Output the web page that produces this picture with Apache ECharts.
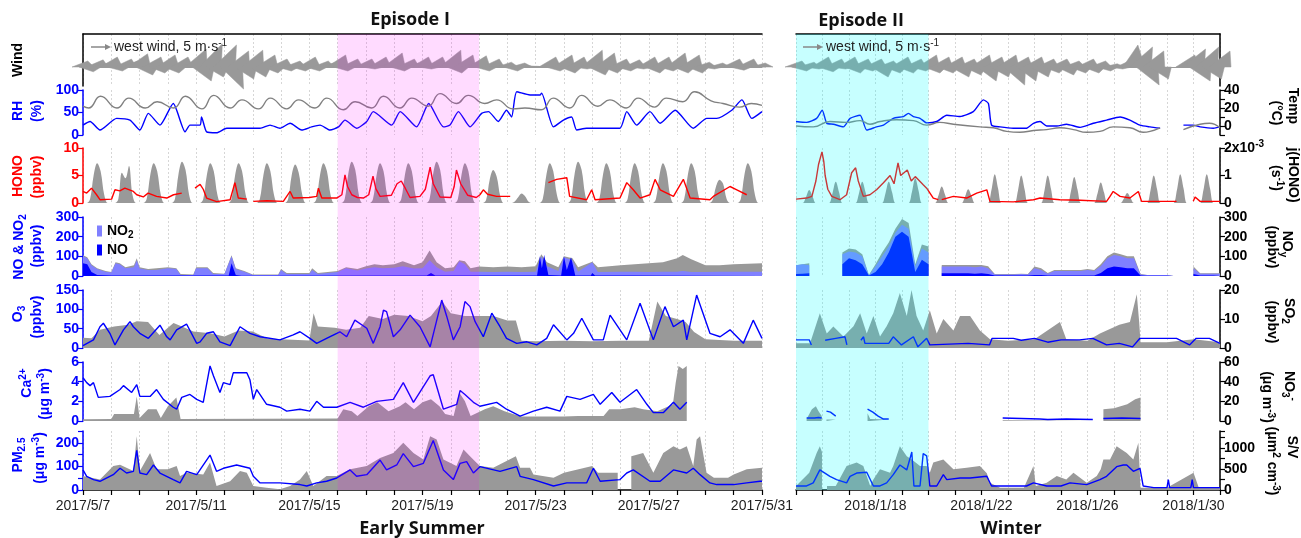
<!DOCTYPE html>
<html>
<head>
<meta charset="utf-8">
<script src="https://cdn.jsdelivr.net/npm/echarts@6/dist/echarts.min.js"></script>
<style>
html, body { margin: 0; padding: 0; background: #fff; }
#chart { width: 1301px; height: 538px; }
</style>
</head>
<body>
<div id="chart"></div>
<script>
// x = days since the first date of each campaign
const summerLabelDays = [0, 4, 8, 12, 16, 20, 24];
const summerDateLabels = ['2017/5/7', '2017/5/11', '2017/5/15', '2017/5/19', '2017/5/23', '2017/5/27', '2017/5/31'];
const winterLabelDays = [3, 7, 11, 15];
const winterDateLabels = ['2018/1/18', '2018/1/22', '2018/1/26', '2018/1/30'];
const episodeSummer = [9, 14];   // 5/16 - 5/21
const episodeWinter = [0, 5];    // 1/15 - 1/20

// y tick labels that are printed
const tempTicks = [0, 20, 40];
const pmTicks = [0, 100, 200];
const svTicks = [0, 500, 1000];

// ---------- wind (m/s, 6-hourly east / north components) ----------
const uSummer = [1.2,0.8,1.5,1.0, 1.5,1.0,1.5,1.2, 2.0,1.5,1.8,1.0, 1.8,1.0,1.5,1.0, 2.5,2.0,3.0,1.5, 3.0,3.0,2.5,2.0,
  2.5,1.5,2.0,1.0, 1.5,0.8,1.2,0.8, 1.5,0.8,1.2,0.8, 2.0,0.8,1.5,0.5, 1.5,0.5,1.5,0.8, 2.0,0.8,1.5,0.8,
  1.5,0.5,1.5,0.8, 2.5,1.0,2.0,0.8, 1.8,0.8,1.5,0.5, 1.0,0.8,0.8,0.3, 0.2,0.1,1.5,0.8, 2.0,1.0,1.5,0.5,
  2.5,1.5,2.0,1.0, 1.5,0.8,1.2,0.5, 1.5,1.0,1.5,0.8, 2.0,1.0,2.0,1.0, 1.0,0.5,0.8,0.5, 1.5,0.8,1.5,0.5, 0.8];
const vSummer = [1.5,-1.2,1.8,1.0, 2.5,-1.0,2.0,1.5, 3.3,-2.0,2.5,-1.5, 3.0,-1.5,2.5,1.0, 4.5,-3.5,5.8,-2.5, 5.5,-5.5,4.0,-3.0,
  4.2,-2.5,3.0,-1.5, 2.0,-1.0,1.5,-1.0, 2.5,-1.0,1.5,1.0, 3.0,-1.0,2.0,0.5, 2.0,-0.5,2.5,1.0, 3.5,-1.0,2.0,1.0,
  2.5,-0.5,2.5,1.0, 4.2,-1.5,3.0,1.0, 2.8,-1.0,2.0,0.5, 1.2,-1.0,1.0,0.3, 0.2,0.1,2.5,-1.0, 3.0,-1.5,2.5,-0.5,
  4.2,-2.0,3.5,-1.5, 2.0,-1.0,1.8,-0.5, 2.5,-1.5,2.5,-1.0, 3.5,-1.5,3.0,-1.5, 1.2,-0.5,1.0,0.5, 2.0,-0.8,2.0,0.5, 1.0];
const uWinter = [1.5,1.0,1.2,0.8, 1.5,1.0,1.5,0.8, 1.5,1.2,1.5,1.0, 1.5,1.5,1.2,1.2, 1.5,1.2,1.5,1.0, 2.0,1.2,1.8,1.2,
  1.8,1.8,1.5,1.5, 2.0,2.0,1.8,1.8, 2.0,2.5,1.8,2.0, 1.8,1.8,1.5,1.2, 1.5,1.5,1.2,1.2, 1.5,1.2,1.2,0.8,
  0.8,0.5,1.5,1.0, 3.0,3.0,2.5,2.0, null,null,null,2.0, 3.0,2.5,3.0,2.0, 2.5];
const vWinter = [1.5,-1.0,1.2,-0.5, 2.5,-1.2,2.0,-0.5, 2.5,-1.5,2.0,-1.0, 2.0,-2.5,1.5,-1.5, 2.5,-1.5,2.0,-1.0, 3.0,-1.5,2.5,-1.5,
  2.5,-2.5,2.0,-2.0, 3.0,-3.5,2.5,-2.5, 3.0,-4.5,2.5,-3.5, 2.5,-2.5,2.0,-1.5, 2.0,-2.0,1.5,-1.5, 2.0,-1.5,1.5,-1.0,
  0.8,-0.5,2.0,5.5, 5.0,-4.5,4.0,-3.0, null,null,null,3.0, 4.5,-3.5,5.0,-3.0, 4.0];

// ---------- RH (%) and temperature (degC) ----------
const rhSummer = [[0,22],[0.25,30],[0.6,11],[1.19,37],[1.66,33],[2.01,11],[2.31,48],[2.72,22],[3.19,70],[3.61,7],[3.78,22],[4.14,22],[4.19,40],[4.37,7],[4.72,5],[5.08,15],[5.79,15],[6.26,15],[6.61,22],[6.96,15],[7.32,26],[7.73,11],[8.08,18],[8.38,22],[8.73,11],[9.03,18],[9.26,33],[9.67,15],[10.03,30],[10.26,52],[10.91,22],[11.21,52],[11.79,18],[12.22,70],[12.74,18],[12.97,22],[13.27,52],[13.68,18],[14.09,48],[14.33,52],[14.68,30],[14.97,55],[15.15,40],[15.33,96],[15.8,89],[16.16,89],[16.21,93],[16.63,18],[16.98,33],[17.27,40],[17.45,11],[17.8,15],[18.39,15],[18.98,15],[19.22,52],[19.57,22],[20.04,52],[20.4,26],[20.93,55],[21.57,15],[22.05,37],[22.4,37],[22.93,55],[23.29,78],[23.64,37],[24,52]];
const tempSummer = [[0,22],[0.2,20],[0.62,33],[1.2,20],[1.62,31],[2.2,20],[2.62,27],[3.2,20],[3.62,33],[4.2,19],[4.62,34],[5.2,20],[5.62,29],[6.2,19],[6.62,31],[7.2,19],[7.62,29],[8.2,20],[8.62,31],[9.2,18],[9.62,27],[10.2,20],[10.62,33],[11.2,20],[11.62,31],[12.2,22],[12.62,36],[13.2,25],[13.62,34],[14.2,25],[14.62,29],[15.2,19],[15.62,20],[16.2,18],[16.62,31],[17.2,20],[17.62,34],[18.2,22],[18.62,29],[19.2,20],[19.62,31],[20.2,21],[20.62,31],[21.2,27],[21.62,38],[22.2,28],[22.62,25],[23.2,21],[23.62,25],[24,23]];
const rhWinter = [[0,30],[0.4,28],[0.78,37],[0.99,55],[1.16,26],[1.41,24],[1.79,18],[2.04,37],[2.42,44],[2.67,11],[3.04,18],[3.3,22],[3.67,37],[4.05,41],[4.24,48],[4.43,41],[4.68,37],[4.93,27],[5.31,30],[5.69,44],[6.19,41],[6.69,52],[7.07,78],[7.26,70],[7.38,22],[7.7,18],[8.2,15],[8.7,15],[8.96,26],[9.21,30],[9.46,20],[9.84,20],[10.21,24],[10.72,17],[11.22,26],[11.72,33],[12.23,40],[12.6,33],[12.98,22],[13.36,18],[13.74,15],[13.8,null],[14.62,22],[14.99,22],[15.25,18],[15.75,15],[16,18]];
const tempWinter = [[0,0],[0.65,-1],[1.28,5],[1.91,4],[2.42,6],[2.79,2],[3.17,5],[3.8,7],[4.43,6],[4.93,1],[5.43,4],[5.94,2],[6.94,-1],[7.45,-2],[7.95,-6],[8.45,-7],[8.96,-5],[9.46,-4],[9.96,-2],[10.47,-4],[10.97,-7],[11.47,-6],[11.97,-1],[12.6,-2],[13.1,-7],[13.36,-6],[13.74,-2],[13.8,null],[14.62,-4],[15.25,2],[15.6,3],[16,-2]];

// ---------- HONO (ppbv) and j(HONO) (1e-3 s-1, 3-hourly) ----------
const honoSummer = [[0,2.1],[0.13,1.8],[0.3,2.7],[0.48,1.5],[0.6,0.6],[1.01,0.7],[1.13,2.4],[1.3,2.2],[1.48,2.7],[1.78,2.1],[1.9,1.5],[2.13,1.1],[2.3,1.8],[2.6,1.2],[2.96,0.9],[3.2,1.5],[3.49,1.8],[3.55,null],[3.96,2.7],[4.14,3.4],[4.25,2.5],[4.37,0.9],[4.72,0.25],[5.2,0.6],[5.37,3.7],[5.49,0.9],[5.79,0.7],[5.85,null],[6.02,0.3],[6.5,0.4],[7.08,0.3],[7.32,2.1],[7.43,0.9],[8.0,1.0],[8.26,1.2],[8.32,2.7],[8.44,0.9],[8.97,0.9],[9.15,1.5],[9.26,5.1],[9.35,3.0],[9.5,1.5],[9.7,1.0],[9.91,0.9],[10.1,1.5],[10.25,4.9],[10.35,2.6],[10.5,1.2],[10.9,1.4],[11.1,3.5],[11.25,4.0],[11.4,2.6],[11.56,1.0],[11.91,1.2],[12.1,2.5],[12.27,6.5],[12.38,3.5],[12.62,1.1],[13.0,1.0],[13.12,3.0],[13.2,6.0],[13.35,3.5],[13.6,1.4],[13.9,1.0],[14.03,1.5],[14.15,2.4],[14.3,1.6],[14.62,1.2],[15.1,1.2],[15.15,null],[16.45,3.7],[16.74,4.3],[17.1,4.6],[17.2,1.2],[17.8,0.6],[17.98,2.4],[18.1,0.6],[18.98,0.9],[19.22,3.7],[19.45,2.4],[19.69,0.9],[20.04,1.5],[20.22,4.3],[20.4,2.4],[20.87,1.2],[21.22,4.3],[21.46,0.9],[22.16,0.6],[22.28,1.2],[22.87,3.0],[23.11,2.4],[23.46,1.5]];
const honoWinter = [[0,0.7],[0.4,0.9],[0.6,1.2],[0.75,4],[0.85,7],[0.98,9.3],[1.05,7.5],[1.1,5],[1.2,2.5],[1.35,1.2],[1.66,0.6],[1.91,1.5],[2.1,5.5],[2.25,6.4],[2.35,4],[2.54,1.2],[2.79,1.5],[3.04,2.4],[3.3,3.7],[3.55,5],[3.7,3.5],[3.85,7.3],[3.95,5],[4.2,6],[4.35,4],[4.5,4.8],[4.8,3.3],[4.93,2.7],[5.18,0.9],[5.37,0.6],[5.42,null],[5.5,0.6],[5.94,1.2],[6.44,0.9],[6.82,1.8],[7.2,2.4],[7.32,0.3],[8.2,0.2],[8.96,0.6],[9.21,0.9],[9.96,0.6],[10.72,0.5],[11.72,0.3],[11.85,1.2],[11.97,2.1],[12.23,1.2],[12.6,0.9],[12.92,2.1],[13.04,0.3],[14.36,0.3],[14.45,null],[14.99,0.3],[15.06,1.1],[15.25,0.3],[16,0.3]];
const jSummer = [
  0,0,.15,1.0,1.45,1.15,.3,0,  0,0,.15,1.1,.9,1.35,.3,0,    0,0,.15,1.0,1.45,1.15,.3,0,  0,0,.15,1.05,1.5,1.2,.3,0,
  0,0,.15,1.0,1.45,1.15,.3,0,  0,0,.15,1.0,1.45,1.15,.3,0,  0,0,.15,1.0,1.45,1.15,.3,0,  0,0,.15,1.0,1.4,1.1,.3,0,
  0,0,.15,1.0,1.45,1.15,.3,0,  0,0,.15,1.05,1.5,1.2,.3,0,   0,0,.15,1.0,1.45,1.15,.3,0,  0,0,.15,1.0,1.45,1.15,.3,0,
  0,0,.15,1.05,1.5,1.2,.3,0,   0,0,.15,1.0,1.45,1.15,.3,0,  0,0,.12,.85,1.2,.95,.25,0,   0,0,.05,.2,.35,.25,.05,0,
  0,0,.15,1.0,1.45,1.15,.3,0,  0,0,.15,1.05,1.5,1.2,.3,0,   0,0,.15,1.0,1.45,1.15,.3,0,  0,0,.15,1.0,1.45,1.15,.3,0,
  0,0,.15,1.0,1.45,1.15,.3,0,  0,0,.15,1.0,1.45,1.15,.3,0,  0,0,.1,.6,.85,.7,.15,0,      0,0,.15,1.0,1.45,1.15,.3,0,
  0];
const jWinter = [
  0,0,0,.21,.47,.24,0,0, 0,0,0,.35,.77,.39,0,0,  0,0,0,.35,.77,.39,0,0,  0,0,0,.35,.77,.39,0,0,
  0,0,0,.4,.9,.45,0,0,   0,0,0,.27,.6,.3,0,0,    0,0,0,.22,.5,.25,0,0,   0,0,0,.47,1.05,.53,0,0,
  0,0,0,.45,1.0,.5,0,0,  0,0,0,.45,1.0,.5,0,0,   0,0,0,.43,.95,.48,0,0,  0,0,0,.34,.75,.38,0,0,
  0,0,0,.16,.36,.18,0,0, 0,0,0,.45,1.0,.5,0,0,   0,0,0,.47,1.05,.53,0,0, 0,0,0,.47,1.05,.53,0,0,
  0];

// ---------- NO, NO2, NOy (ppbv) ----------
const noySummer = [[0,105],[0.15,95],[0.3,60],[0.5,40],[0.8,25],[1.0,20],[1.15,70],[1.3,65],[1.5,45],[1.8,55],[1.9,90],[2.0,45],[2.3,35],[2.6,40],[3.0,45],[3.3,40],[3.45,10],[3.9,8],[4.0,45],[4.4,45],[4.6,15],[5.0,12],[5.25,105],[5.4,40],[5.7,25],[6.0,8],[6.9,8],[7.0,35],[7.2,15],[8.0,15],[8.1,40],[8.3,15],[9.0,25],[9.3,45],[9.7,35],[10.0,50],[10.3,60],[10.6,55],[11.0,60],[11.3,75],[11.7,55],[12.0,70],[12.25,130],[12.5,70],[12.8,40],[13.1,45],[13.3,80],[13.5,75],[13.7,40],[14.0,48],[14.5,45],[15.0,48],[15.5,45],[16.0,50],[16.2,110],[16.4,70],[16.8,45],[17.0,100],[17.3,90],[17.5,45],[18.0,73],[18.2,45],[19.0,55],[19.5,60],[20.0,65],[20.5,70],[21.0,90],[21.2,107],[21.5,85],[22.0,55],[22.5,55],[23.0,60],[23.5,62],[24,65]];
const no2Summer = [[0,100],[0.15,90],[0.3,55],[0.5,35],[0.8,22],[1.0,18],[1.15,65],[1.3,60],[1.5,40],[1.8,45],[1.9,80],[2.0,38],[2.3,30],[2.6,30],[3.0,40],[3.3,35],[3.45,5],[3.9,5],[4.0,40],[4.4,40],[4.6,10],[5.0,10],[5.25,100],[5.4,35],[5.7,22],[6.0,5],[6.9,5],[7.0,30],[7.2,10],[8.0,10],[8.1,30],[8.3,10],[9.0,20],[9.3,40],[9.7,28],[10.0,38],[10.3,45],[10.6,40],[11.0,42],[11.3,50],[11.7,38],[12.0,40],[12.25,80],[12.5,45],[12.8,22],[13.1,25],[13.3,75],[13.5,60],[13.7,22],[14.0,22],[14.5,20],[15.0,22],[15.5,20],[16.0,22],[16.2,100],[16.4,50],[16.8,25],[17.0,95],[17.3,80],[17.5,22],[18.0,70],[18.2,20],[19.0,22],[19.5,22],[20.0,20],[20.5,22],[21.0,22],[21.2,25],[21.5,20],[22.0,20],[22.5,22],[23.0,22],[23.5,22],[24,22]];
const noSummer = [[0,65],[0.15,60],[0.3,20],[0.5,5],[1.0,2],[1.85,3],[1.9,10],[2.0,2],[5.15,2],[5.25,65],[5.4,5],[5.6,1],[12.15,2],[12.3,15],[12.45,2],[16.05,2],[16.15,100],[16.22,40],[16.3,107],[16.45,5],[16.9,2],[17.0,100],[17.1,30],[17.25,95],[17.4,3],[17.95,2],[18.0,15],[18.1,2],[19.25,2],[19.3,10],[19.4,2],[24,2]];
// winter NOx values are 6-hourly
const noyWinter = [55,60,65,null, null,null,null,120, 140,135,110,5, 60,120,170,240, 290,270,60,160, 150,null,56,56,
  56,56,56,56, 56,50,10,10, 10,10,12,10, 48,40,15,30, 30,30,30,30, 35,30,60,100, 120,110,100,100,
  10,5,5,5, 5,5,null,null, 48,14,14,14, 14];
const no2Winter = [55,60,55,null, null,null,null,110, 125,120,100,4, 50,100,150,220, 260,240,50,140, 120,null,48,48,
  48,48,48,45, 48,40,8,8, 8,8,10,8, 40,30,12,25, 25,25,25,25, 30,25,50,90, 107,100,90,90,
  8,5,5,5, 5,5,null,null, 40,12,12,12, 12];
const noWinter = [10,12,14,null, null,null,null,60, 90,80,60,2, 20,60,120,200, 225,200,20,82, 60,null,14,14,
  14,14,14,12, 14,10,2,2, 2,2,2,2, 5,5,2,2, 2,2,2,2, 2,2,15,40, 48,45,40,40,
  2,1,1,1, 1,1,null,null, 10,2,2,2, 2];

// ---------- O3 and SO2 (ppbv) ----------
const o3Summer = [[0,6],[0.37,21],[0.6,55],[0.72,64],[0.95,38],[1.13,8],[1.43,47],[1.66,68],[1.78,55],[2.01,38],[2.31,25],[2.72,59],[2.96,29],[3.08,21],[3.31,47],[3.66,62],[4.02,12],[4.14,16],[4.37,38],[4.61,42],[4.84,16],[5.2,6],[5.55,55],[5.9,38],[6.26,29],[6.96,21],[7.43,34],[7.67,42],[8.02,25],[8.26,12],[8.61,25],[8.97,38],[9.08,42],[9.32,29],[9.61,72],[10.03,51],[10.26,12],[10.5,55],[10.62,98],[10.73,94],[10.97,29],[11.21,47],[11.56,85],[11.91,55],[12.27,3],[12.68,124],[12.86,81],[13.09,21],[13.33,55],[13.5,120],[13.68,107],[13.86,68],[14.15,29],[14.45,90],[14.74,55],[14.97,25],[15.33,12],[15.69,16],[16.04,8],[16.39,25],[16.63,60],[17.1,21],[17.34,38],[17.63,77],[18.04,21],[18.39,21],[18.63,85],[19.22,21],[19.69,116],[20.16,21],[20.57,107],[20.87,55],[21.22,72],[21.34,21],[21.69,137],[22.16,38],[22.52,29],[22.87,47],[23.34,12],[23.69,72],[24,25]];
const so2Summer = [[0,3.5],[0.3,3.4],[0.6,6.3],[1.1,7.4],[1.6,8],[1.9,9.2],[2.3,9],[2.7,4.5],[3.2,8.6],[3.6,7],[3.9,5.7],[4.5,5.1],[5.0,4],[5.5,6],[6.0,5.7],[6.5,3.4],[7.0,3],[8.0,2.6],[8.15,12],[8.3,7.4],[8.9,7],[9.3,6.3],[9.8,7],[10.1,11],[10.6,10],[11.0,11.5],[11.5,11],[12.0,9.2],[12.3,11],[12.7,16],[13.0,12],[13.5,11],[14.0,11],[14.5,11],[15.0,9.5],[15.3,9.5],[15.5,2.5],[16,2.3],[17,2.5],[18,2.3],[19,2.5],[20.0,2.5],[20.3,16],[20.6,11],[21.0,10],[21.3,9],[21.6,5.5],[22.0,3],[23,2.5],[24,2.5]];
const o3Winter = [[0,21],[0.5,21],[0.58,8],[0.62,null],[1.1,20],[1.5,25],[1.85,29],[1.92,8],[1.96,null],[2.45,20],[2.55,29],[2.6,12],[3.5,12],[3.67,29],[3.98,8],[4.43,29],[4.6,3],[4.93,25],[5.05,8],[6.5,12],[7.3,8],[7.4,25],[8.2,25],[8.5,20],[9.0,25],[9.5,15],[10.0,21],[10.7,21],[11.2,25],[11.72,8],[12.2,12],[12.7,3],[12.98,25],[13.5,25],[14.36,25],[14.85,8],[15.1,25],[15.6,25],[16,12]];
const so2Winter = [[0,1.6],[0.53,1.6],[0.65,5],[0.9,12],[1.16,5],[1.41,7.4],[1.79,4],[2.17,7.5],[2.42,12],[2.67,5],[2.92,11],[3.17,4],[3.42,7.5],[3.67,12],[3.92,19],[4.18,11],[4.36,20],[4.55,11],[4.8,6],[5.05,13],[5.31,5],[5.56,10],[5.94,6],[6.19,11],[6.57,11],[6.94,6],[7.32,3],[8.0,2.5],[9.0,3],[9.96,9],[10.2,3],[11.0,2.5],[11.47,5],[11.72,6],[12.2,8],[12.6,9],[12.86,18.5],[12.95,9],[13.0,2],[14.0,2],[14.5,2.5],[15.0,3],[16,2]];

// ---------- Ca2+ and NO3- (ug m-3) ----------
const caSummer = [[0,4.4],[0.13,3.9],[0.25,3.6],[0.37,3.9],[0.54,2.4],[0.95,2.5],[1.31,3.2],[1.43,3.6],[1.72,2.9],[1.9,3.7],[2.01,2.5],[2.37,2.5],[2.6,3.2],[2.84,2.2],[3.19,1.4],[3.31,1.2],[3.49,2.4],[3.78,2.7],[4.02,2.2],[4.25,1.9],[4.49,5.6],[4.61,4.6],[4.84,2.9],[4.96,3.9],[5.2,3.7],[5.31,4.9],[5.79,4.9],[5.9,4.2],[6.02,2.2],[6.14,3.2],[6.49,1.7],[6.96,1.4],[7.2,1.0],[7.67,1.2],[8.02,1.0],[8.26,2.0],[8.5,1.4],[8.97,1.4],[9.44,1.9],[9.91,1.4],[10.38,2.0],[10.97,2.2],[11.32,3.9],[11.68,1.9],[12.27,4.6],[12.38,4.7],[12.74,1.2],[13.21,1.7],[13.33,3.1],[13.5,2.7],[13.8,1.9],[14.03,1.5],[14.62,1.9],[14.97,1.2],[15.45,0.5],[15.92,1.0],[16.39,1.4],[16.86,1.0],[17.1,2.5],[17.57,2.2],[18.04,2.7],[18.28,1.7],[18.69,2.9],[18.98,1.9],[19.57,3.2],[19.93,1.7],[20.16,0.85],[20.51,0.85],[20.87,1.9],[21.1,1.2],[21.34,1.9]];
const no3Summer = [[0,1.7],[1.0,2],[1.1,7],[1.8,7],[1.9,25],[2.0,3],[2.3,12],[2.6,12],[2.75,3],[3.0,15],[3.3,24],[3.45,2],[3.5,2.5],[9.0,2.5],[9.2,12],[9.5,10],[9.7,5],[10.1,15],[10.4,19],[10.8,10],[11.2,15],[11.4,19],[11.7,12],[12.0,19],[12.3,22],[12.6,15],[12.8,7],[13.1,5],[13.3,29],[13.5,20],[13.7,5],[14.2,12],[14.5,15],[14.9,10],[15.2,7],[15.5,4.5],[17,4.5],[17.5,5],[18.4,5],[18.6,12],[19.0,12],[19.5,14],[19.8,12],[20.3,10],[20.7,15],[20.85,17],[20.95,39],[21.05,56],[21.2,53],[21.34,56]];
const caWinter = [[0.4,0.3],[0.7,0.3],[0.85,0.35],[0.97,0.3],[1.0,null],[1.15,1.0],[1.3,0.9],[1.5,0.5],[1.55,null],[2.7,1.2],[2.9,0.9],[3.1,0.5],[3.3,0.2],[3.5,0.2],[3.55,null],[7.8,0.3],[8.5,0.25],[9.2,0.2],[9.5,0.15],[10.2,0.2],[11.2,0.15],[11.25,null],[11.6,0.25],[12.3,0.3],[13.0,0.25]];
const no3Winter = [[0.4,2],[0.6,12],[0.75,15],[0.85,10],[0.97,5],[1.0,null],[1.15,1.5],[1.5,1.5],[1.55,null],[2.7,8],[2.8,2],[3.5,1.5],[3.55,null],[7.8,0.8],[11.2,0.8],[11.25,null],[11.6,12],[12.0,13],[12.5,17],[12.8,22],[13.0,24]];

// ---------- PM2.5 (ug m-3) and S/V (um2 cm-3) ----------
const pmSummer = [[0,85],[0.13,58],[0.37,44],[0.6,37],[1.07,65],[1.31,92],[1.54,72],[1.78,79],[1.9,168],[2.01,72],[2.25,65],[2.49,106],[2.72,72],[3.19,44],[3.43,30],[3.66,79],[4.02,65],[4.49,148],[4.72,79],[4.96,92],[5.43,106],[5.9,92],[6.02,58],[6.26,30],[6.96,30],[7.67,23],[7.91,17],[8.26,30],[8.61,37],[8.97,51],[9.44,85],[9.67,58],[10.03,65],[10.5,127],[10.73,85],[11.09,106],[11.32,154],[11.68,99],[12.03,113],[12.38,210],[12.74,85],[13.09,44],[13.33,113],[13.56,120],[13.8,72],[14.03,99],[14.74,79],[15.33,99],[15.45,58],[15.92,44],[16.63,17],[17.1,30],[17.8,30],[18.04,92],[18.28,37],[18.98,44],[19.22,72],[19.45,85],[20.04,37],[20.4,37],[20.87,85],[21.34,72],[21.57,92],[21.81,65],[22.16,30],[22.4,23],[23.0,23],[23.46,30],[23.93,37],[24,37]];
const svSummer = [[0,330],[0.6,250],[1.07,570],[1.31,600],[1.78,450],[1.9,1275],[2.01,450],[2.37,880],[2.6,490],[3.0,490],[3.31,570],[3.43,330],[3.66,410],[4.25,370],[4.49,650],[4.72,95],[5.2,210],[5.55,450],[5.79,410],[6.02,95],[6.49,55],[6.96,15],[7.32,95],[7.67,250],[7.91,450],[8.14,95],[8.61,330],[8.97,330],[9.44,490],[10.03,570],[10.5,760],[10.97,880],[11.32,1120],[11.68,880],[12.03,725],[12.27,1275],[12.5,1200],[12.74,725],[13.2,570],[13.45,960],[13.68,800],[13.9,650],[14.03,570],[14.5,530],[15.3,800],[15.45,530],[15.8,530],[15.92,370],[16.63,290],[17.0,410],[18.0,570],[18.2,410],[18.9,410],[19.08,null],[19.38,800],[19.8,880],[20.16,410],[20.51,880],[20.87,1040],[21.1,960],[21.34,1040],[21.57,570],[21.69,1200],[21.81,1275],[22.04,410],[22.3,290],[22.8,290],[23.0,370],[23.46,490],[24,530]];
const pmWinter = [[0,17],[0.4,17],[0.65,30],[0.9,85],[0.97,92],[1.28,58],[1.53,44],[1.91,30],[2.04,58],[2.29,72],[2.67,75],[2.92,17],[3.17,17],[3.42,30],[3.67,65],[3.92,106],[4.18,85],[4.37,161],[4.45,17],[4.68,17],[4.8,154],[4.93,145],[5.05,17],[5.31,17],[5.56,65],[5.69,44],[6.19,51],[6.57,51],[7.2,58],[7.38,17],[8.7,17],[8.96,30],[9.46,17],[10.0,17],[10.34,30],[10.97,23],[11.47,44],[11.72,58],[12.1,99],[12.35,106],[12.48,106],[12.73,79],[12.98,92],[13.1,17],[13.5,10],[14.0,10],[14.05,44],[14.1,10],[14.9,10],[14.95,44],[15.0,10],[16,10]];
const svWinter = [[0,95],[0.5,410],[0.78,880],[0.9,1040],[0.98,900],[1.02,null],[1.17,95],[1.5,95],[1.91,570],[2.29,650],[2.54,570],[2.8,95],[2.92,250],[3.17,490],[3.55,410],[3.67,570],[3.92,1040],[4.18,800],[4.37,725],[4.68,570],[4.93,570],[5.05,410],[5.18,650],[5.56,725],[5.94,490],[6.44,530],[6.94,570],[7.2,400],[7.32,170],[7.7,55],[8.6,55],[8.96,570],[9.05,95],[9.46,170],[9.84,330],[10.2,250],[10.47,410],[10.97,170],[11.35,330],[11.5,490],[11.6,725],[11.85,725],[12.1,1040],[12.48,880],[12.73,725],[12.92,1120],[12.98,1100],[13.0,55],[14.0,55],[15.0,410],[15.2,55],[16,55]];

// ---------------------------------------------------------------
const BLUE = '#0000ff', RED = '#ff0000', GREY = '#999999', LBLUE = '#8080ff', TEMPC = '#808080';
const FONT = '"Liberation Sans", Arial, sans-serif';

function reg(arr, step) { return arr.map((v, i) => [+(i * step).toFixed(4), v]); }
function windPts(u, v) { return v.map((vv, i) => [i * 0.25, u[i], vv]); }

const columns = [
  { left: 83, width: 679, days: 24, labelDays: summerLabelDays, labels: summerDateLabels,
    episode: episodeSummer, band: 'rgba(255,0,255,0.14)',
    wind: windPts(uSummer, vSummer), rh: rhSummer, temp: tempSummer, hono: honoSummer, j: reg(jSummer, 0.125),
    noy: noySummer, no2: no2Summer, no: noSummer, o3: o3Summer, so2: so2Summer,
    ca: caSummer, no3: no3Summer, pm: pmSummer, sv: svSummer },
  { left: 796, width: 424, days: 16, labelDays: winterLabelDays, labels: winterDateLabels,
    episode: episodeWinter, band: 'rgba(0,255,255,0.22)',
    wind: windPts(uWinter, vWinter), rh: rhWinter, temp: tempWinter, hono: honoWinter, j: reg(jWinter, 0.125),
    noy: reg(noyWinter, 0.25), no2: reg(no2Winter, 0.25), no: reg(noWinter, 0.25), o3: o3Winter, so2: so2Winter,
    ca: caWinter, no3: no3Winter, pm: pmWinter, sv: svWinter }
];

const rows = [
  { top: 34, height: 52, axes: [{ min: -4.75, max: 8.25, bare: true }] },
  { top: 90, height: 45, axes: [{ min: 0, max: 100, interval: 50, color: BLUE }, { min: -10, max: 40, interval: 10, labels: tempTicks }] },
  { top: 148, height: 55, axes: [{ min: 0, max: 10, interval: 5, color: RED }, { min: 0, max: 2, interval: 1, sci: true }] },
  { top: 217, height: 59, axes: [{ min: 0, max: 300, interval: 100, color: BLUE }, { min: 0, max: 300, interval: 100 }] },
  { top: 290, height: 58, axes: [{ min: 0, max: 150, interval: 50, color: BLUE }, { min: 0, max: 20, interval: 10 }] },
  { top: 362, height: 59, axes: [{ min: 0, max: 6, interval: 2, color: BLUE }, { min: 0, max: 60, interval: 20 }] },
  { top: 431, height: 59, axes: [{ min: 0, max: 250, interval: 50, color: BLUE, labels: pmTicks }, { min: 0, max: 1400, interval: 250, labels: svTicks }] }
];

function makeY(g, spec, position, visible) {
  const color = spec.color || '#000';
  return {
    type: 'value', gridIndex: g, position, min: spec.min, max: spec.max, interval: spec.interval,
    show: visible,
    axisLine: { show: true, onZero: false, lineStyle: { color, width: 1.5 } },
    axisTick: { show: !spec.bare, length: 5, lineStyle: { color, width: 1.2 } },
    axisLabel: {
      show: !spec.bare, color, fontSize: 14, fontWeight: 'bold', fontFamily: FONT, margin: 4, lineHeight: 18,
      formatter: v => {
        if (spec.labels && spec.labels.indexOf(v) < 0) return '';
        if (spec.sci && v === spec.max) return v + 'x10{sup|-3}';
        return String(v);
      },
      rich: { sup: { fontSize: 10, fontWeight: 'bold', fontFamily: FONT, color, verticalAlign: 'top', lineHeight: 10 } }
    },
    splitLine: { show: false }
  };
}

function line(name, ax, data, color, smooth) {
  return Object.assign({ type: 'line', name, data, symbol: 'none', showSymbol: false, smooth: smooth || false,
    lineStyle: { color, width: 1.4 }, itemStyle: { color }, z: 4 }, ax);
}
function area(name, ax, data, color, smooth) {
  return Object.assign({ type: 'line', name, data, symbol: 'none', showSymbol: false, smooth: smooth || false,
    lineStyle: { width: 0 }, areaStyle: { color, opacity: 1 }, itemStyle: { color }, z: 2 }, ax);
}
// each wind vector: a wide wedge from the base line to the arrow tip; neighbours overlap into a feathered band
function renderWind(params, api) {
  const u = api.value(1), v = api.value(2);
  if (v == null || isNaN(v) || isNaN(u)) return null;
  const o = api.coord([api.value(0), 0]);
  const k = api.size([0, 1])[1];
  const hw = 11;
  const tip = [o[0] + u * k, o[1] - v * k];
  return { type: 'polygon',
    shape: { points: [[o[0] - hw, o[1]], tip, [o[0] + hw, o[1]]] },
    style: { fill: GREY, stroke: GREY, lineWidth: 0.5 } };
}
function renderBand(params, api) {
  const a = api.coord([api.value(0), api.value(3)]);
  const b = api.coord([api.value(1), api.value(2)]);
  return { type: 'rect', shape: { x: a[0], y: a[1], width: b[0] - a[0], height: b[1] - a[1] },
    style: { fill: api.visual('color') } };
}

const grid = [], xAxis = [], yAxis = [], series = [];

columns.forEach((col, c) => {
  const ax = [];
  rows.forEach((row, r) => {
    const g = grid.length;
    const last = r === rows.length - 1;
    grid.push({ left: col.left, width: col.width, top: row.top, height: row.height });
    xAxis.push({
      type: 'value', gridIndex: g, min: 0, max: col.days, interval: 1,
      position: r === 0 ? 'top' : 'bottom',
      axisLine: { show: r === 0 || last, onZero: false, lineStyle: { color: '#000', width: 1.5 } },
      axisTick: { show: last, length: 5, lineStyle: { color: '#000', width: 1.2 } },
      axisLabel: { show: last, color: '#222', fontSize: 14, fontFamily: FONT, margin: 9,
        formatter: v => { const k = col.labelDays.indexOf(v); return k >= 0 ? col.labels[k] : ''; } },
      splitLine: { show: true, lineStyle: { color: '#d6d6d6', type: [2, 2], width: 1 } }
    });
    const ids = row.axes.map((spec, k) => {
      const single = row.axes.length === 1;
      const visible = single || (k === 0 ? c === 0 : c === 1);
      const position = single ? (c === 0 ? 'left' : 'right') : (k === 0 ? 'left' : 'right');
      yAxis.push(makeY(g, spec, position, visible));
      return yAxis.length - 1;
    });
    ax.push({ g, ids });
  });
  const A = (r, k) => ({ xAxisIndex: ax[r].g, yAxisIndex: ax[r].ids[k] });

  series.push(Object.assign({ type: 'custom', name: 'wind', data: col.wind, encode: { x: 0, y: 2 },
    renderItem: renderWind, z: 3,
    markLine: { silent: true, symbol: 'none', label: { show: false },
      lineStyle: { color: GREY, width: 1, type: 'solid' }, data: [{ yAxis: 0 }] } }, A(0, 0)));
  series.push(line('RH', A(1, 0), col.rh, BLUE, 0.2));
  series.push(line('Temp', A(1, 1), col.temp, TEMPC, 0.5));
  series.push(area('jHONO', A(2, 1), col.j, GREY, 0.35));
  series.push(line('HONO', A(2, 0), col.hono, RED));
  series.push(area('NOy', A(3, 1), col.noy, GREY));
  series.push(area('NO\u2082', A(3, 0), col.no2, LBLUE));
  series.push(area('NO', A(3, 0), col.no, BLUE));
  series.push(area('SO2', A(4, 1), col.so2, GREY));
  series.push(line('O3', A(4, 0), col.o3, BLUE));
  series.push(area('NO3', A(5, 1), col.no3, GREY));
  series.push(line('Ca', A(5, 0), col.ca, BLUE));
  series.push(area('SV', A(6, 1), col.sv, GREY));
  series.push(line('PM', A(6, 0), col.pm, BLUE));

  // translucent episode band laid over the whole column
  const bg = grid.length;
  const lastRow = rows[rows.length - 1];
  grid.push({ left: col.left, width: col.width, top: rows[0].top, height: lastRow.top + lastRow.height - rows[0].top });
  xAxis.push({ type: 'value', gridIndex: bg, min: 0, max: col.days, show: false });
  yAxis.push({ type: 'value', gridIndex: bg, min: 0, max: 1, show: false });
  series.push({ type: 'custom', name: 'episode', xAxisIndex: bg, yAxisIndex: yAxis.length - 1, z: 20, silent: true,
    itemStyle: { color: col.band }, renderItem: renderBand, encode: { x: [0, 1], y: [2, 3] },
    data: [[col.episode[0], col.episode[1], 0, 1]] });
});

// axis titles
const richB = {
  sub: { fontSize: 10, fontWeight: 'bold', fontFamily: FONT, verticalAlign: 'bottom', lineHeight: 10 },
  sup: { fontSize: 10, fontWeight: 'bold', fontFamily: FONT, verticalAlign: 'top', lineHeight: 10 }
};
function vText(text, x, y, color, rot) {
  return { type: 'text', x, y, rotation: rot, z: 30,
    style: { text, fill: color, fontSize: 14, fontWeight: 'bold', fontFamily: FONT, lineHeight: 18,
      align: 'center', verticalAlign: 'middle', rich: richB } };
}
const UP = Math.PI / 2, DOWN = -Math.PI / 2;
const graphic = [
  vText('Wind', 18, 60, '#000', UP),
  vText('RH', 18, 111, BLUE, UP), vText('(%)', 37, 111, BLUE, UP),
  vText('HONO', 18, 176, RED, UP), vText('(ppbv)', 37, 177, RED, UP),
  vText('NO & NO{sub|2}', 19, 247, BLUE, UP), vText('(ppbv)', 37, 246, BLUE, UP),
  vText('O{sub|3}', 18, 314, BLUE, UP), vText('(ppbv)', 37, 317, BLUE, UP),
  vText('Ca{sup|2+}', 27, 383, BLUE, UP), vText('(\u03bcg m{sup|-3})', 45, 394, BLUE, UP),
  vText('PM{sub|2.5}', 18, 455, BLUE, UP), vText('(\u03bcg m{sup|-3})', 40, 458, BLUE, UP),
  vText('Temp', 1293, 106, '#000', DOWN), vText('(\u00b0C)', 1276, 113, '#000', DOWN),
  vText('j(HONO)', 1293, 175, '#000', DOWN), vText('(s{sup|-1})', 1276, 178, '#000', DOWN),
  vText('NO{sub|y}', 1287, 244, '#000', DOWN), vText('(ppbv)', 1272, 247, '#000', DOWN),
  vText('SO{sub|2}', 1289, 311, '#000', DOWN), vText('(ppbv)', 1272, 322, '#000', DOWN),
  vText('NO{sub|3}{sup|-}', 1289, 386, '#000', DOWN), vText('(\u03bcg m{sup|-3})', 1267, 397, '#000', DOWN),
  vText('S/V', 1292, 447, '#000', DOWN), vText('(\u03bcm{sup|2} cm{sup|-3})', 1272, 461, '#000', DOWN)
];
[['Episode I', 410, 20], ['Episode II', 861, 21], ['Early Summer', 422, 529], ['Winter', 1011, 529]].forEach(t => {
  graphic.push({ type: 'text', x: t[1], y: t[2], z: 30,
    style: { text: t[0], fill: '#111', fontSize: 18, fontWeight: 'bold', fontFamily: '"Open Sans", sans-serif',
      align: 'center', verticalAlign: 'middle' } });
});
// wind legends
[[91, 47], [803, 47]].forEach(p => {
  graphic.push({ type: 'line', z: 30, shape: { x1: p[0], y1: p[1], x2: p[0] + 16, y2: p[1] }, style: { stroke: '#888', lineWidth: 1.5 } });
  graphic.push({ type: 'polygon', z: 30, shape: { points: [[p[0] + 14, p[1] - 3], [p[0] + 20, p[1]], [p[0] + 14, p[1] + 3]] }, style: { fill: '#888' } });
  graphic.push({ type: 'text', x: p[0] + 23, y: p[1], z: 30,
    style: { text: 'west wind, 5 m\u00b7s{sup|-1}', fill: '#222', fontSize: 14, fontFamily: FONT, lineHeight: 18,
      align: 'left', verticalAlign: 'middle',
      rich: { sup: { fontSize: 10, fontFamily: FONT, verticalAlign: 'top', lineHeight: 10 } } } });
});

const option = {
  animation: false,
  backgroundColor: '#fff',
  textStyle: { fontFamily: FONT },
  grid, xAxis, yAxis, series, graphic,
  legend: {
    data: ['NO\u2082', 'NO'], orient: 'vertical', left: 92, top: 217, itemWidth: 5, itemHeight: 11, itemGap: 1,
    icon: 'rect', selectedMode: false,
    formatter: n => n === 'NO\u2082' ? 'NO{s|2}' : n,
    textStyle: { fontSize: 14, fontWeight: 'bold', color: '#000', fontFamily: FONT, lineHeight: 18,
      rich: { s: { fontSize: 10, fontWeight: 'bold', fontFamily: FONT, verticalAlign: 'bottom', lineHeight: 10 } } }
  }
};

const chart = echarts.init(document.getElementById('chart'));
chart.setOption(option);
</script>
</body>
</html>
